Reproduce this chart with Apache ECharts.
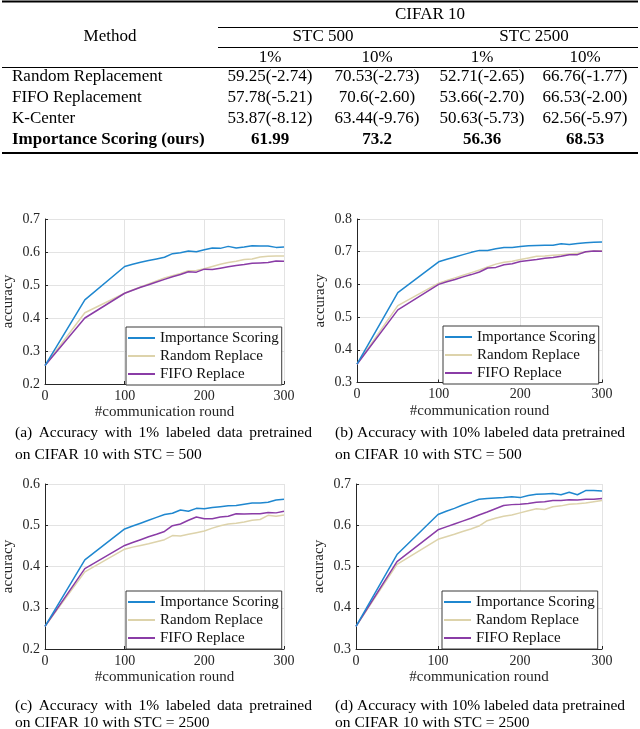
<!DOCTYPE html>
<html><head><meta charset="utf-8">
<script src="https://cdn.jsdelivr.net/npm/echarts@6/dist/echarts.min.js"></script>
<style>html,body{margin:0;padding:0;background:#fff}#c{width:640px;height:729px}</style>
</head><body><div id="c"></div>
<script>
// ---------- table data ----------
const tableTitle = 'CIFAR 10';
const tableGroups = ['STC 500', 'STC 2500'];
const tablePercents = ['1%', '10%', '1%', '10%'];
const tableMethods = ['Random Replacement', 'FIFO Replacement', 'K-Center', 'Importance Scoring (ours)'];
const stc500_1 = ['59.25(-2.74)', '57.78(-5.21)', '53.87(-8.12)', '61.99'];
const stc500_10 = ['70.53(-2.73)', '70.6(-2.60)', '63.44(-9.76)', '73.2'];
const stc2500_1 = ['52.71(-2.65)', '53.66(-2.70)', '50.63(-5.73)', '56.36'];
const stc2500_10 = ['66.76(-1.77)', '66.53(-2.00)', '62.56(-5.97)', '68.53'];

// ---------- chart data ----------
const seriesNames = ['Importance Scoring', 'Random Replace', 'FIFO Replace'];
const rounds = [0, 50, 100, 110, 120, 130, 140, 150, 160, 170, 180, 190, 200, 210, 220, 230, 240, 250, 260, 270, 280, 290, 300];
const xTicks = [0, 100, 200, 300];

// (a) 1%, STC 500
const a_importance = [0.256,0.455,0.556,0.563,0.569,0.574,0.579,0.584,0.595,0.598,0.603,0.601,0.607,0.612,0.611,0.617,0.612,0.615,0.619,0.618,0.618,0.614,0.615];
const a_random     = [0.256,0.416,0.475,0.485,0.494,0.503,0.512,0.521,0.528,0.535,0.543,0.544,0.549,0.556,0.563,0.568,0.572,0.577,0.579,0.585,0.587,0.588,0.588];
const a_fifo       = [0.256,0.400,0.475,0.484,0.493,0.501,0.509,0.517,0.525,0.532,0.540,0.539,0.548,0.547,0.551,0.555,0.559,0.562,0.566,0.567,0.568,0.573,0.572];
const a_yTicks = [0.2, 0.3, 0.4, 0.5, 0.6, 0.7];

// (b) 10%, STC 500
const b_importance = [0.356,0.575,0.669,0.677,0.684,0.691,0.698,0.704,0.704,0.709,0.713,0.713,0.716,0.718,0.719,0.720,0.720,0.724,0.722,0.725,0.727,0.729,0.730];
const b_random     = [0.356,0.535,0.604,0.612,0.620,0.628,0.636,0.644,0.653,0.662,0.668,0.671,0.676,0.681,0.686,0.687,0.689,0.691,0.693,0.695,0.699,0.702,0.703];
const b_fifo       = [0.356,0.522,0.600,0.608,0.615,0.623,0.630,0.638,0.650,0.652,0.660,0.663,0.670,0.673,0.676,0.680,0.682,0.686,0.691,0.691,0.700,0.702,0.701];
const b_yTicks = [0.3, 0.4, 0.5, 0.6, 0.7, 0.8];

// (c) 1%, STC 2500
const c_importance = [0.255,0.416,0.491,0.498,0.505,0.512,0.519,0.526,0.529,0.537,0.534,0.541,0.540,0.543,0.545,0.547,0.548,0.551,0.554,0.554,0.556,0.561,0.563];
const c_random     = [0.255,0.387,0.442,0.447,0.451,0.455,0.460,0.465,0.475,0.474,0.478,0.482,0.486,0.493,0.499,0.503,0.505,0.508,0.512,0.514,0.524,0.522,0.525];
const c_fifo       = [0.255,0.395,0.451,0.458,0.465,0.472,0.478,0.485,0.499,0.503,0.512,0.520,0.516,0.516,0.520,0.522,0.528,0.527,0.528,0.528,0.531,0.530,0.534];
const c_yTicks = [0.2, 0.3, 0.4, 0.5, 0.6];

// (d) 10%, STC 2500
const d_importance = [0.355,0.529,0.626,0.634,0.641,0.649,0.656,0.663,0.665,0.666,0.667,0.669,0.667,0.672,0.675,0.676,0.677,0.674,0.680,0.674,0.684,0.684,0.683];
const d_random     = [0.355,0.505,0.566,0.572,0.578,0.585,0.591,0.598,0.611,0.617,0.622,0.625,0.630,0.635,0.640,0.638,0.645,0.647,0.651,0.652,0.654,0.657,0.660];
const d_fifo       = [0.355,0.512,0.589,0.596,0.603,0.610,0.617,0.625,0.632,0.640,0.648,0.650,0.651,0.653,0.656,0.657,0.660,0.660,0.662,0.661,0.663,0.663,0.665];
const d_yTicks = [0.3, 0.4, 0.5, 0.6, 0.7];

const captionsLine1 = [
  '(a) Accuracy with 1% labeled data pretrained',
  '(b) Accuracy with 10% labeled data pretrained',
  '(c) Accuracy with 1% labeled data pretrained',
  '(d) Accuracy with 10% labeled data pretrained'
];
const captionsLine2 = [
  'on CIFAR 10 with STC = 500',
  'on CIFAR 10 with STC = 500',
  'on CIFAR 10 with STC = 2500',
  'on CIFAR 10 with STC = 2500'
];
const xAxisName = '#communication round';
const yAxisName = 'accuracy';

// ---------- layout / style ----------
const SERIF = '"Liberation Serif", "Times New Roman", serif';
const colors = ['#1f87cf', '#ddd3ab', '#8a3ca6'];
const AXC = '#262626';

const panels = [
  { grid: { left: 38, top: 219, width: 246, height: 165 }, yTicks: a_yTicks, data: [a_importance, a_random, a_fifo], legend: { left: 126, top: 327 }, cap: { x: 15, y1: 433, y2: 455, justify: 297 } },
  { grid: { left: 357, top: 219, width: 245, height: 163.5 }, yTicks: b_yTicks, data: [b_importance, b_random, b_fifo], legend: { left: 443, top: 326 }, cap: { x: 335, y1: 433, y2: 455, justify: 0 } },
  { grid: { left: 39, top: 484, width: 245, height: 165 }, yTicks: c_yTicks, data: [c_importance, c_random, c_fifo], legend: { left: 126, top: 591 }, cap: { x: 15, y1: 706, y2: 723, justify: 297 } },
  { grid: { left: 356, top: 484, width: 246, height: 165 }, yTicks: d_yTicks, data: [d_importance, d_random, d_fifo], legend: { left: 442, top: 591 }, cap: { x: 335, y1: 706, y2: 723, justify: 0 } }
];

const grids = [], xAxes = [], yAxes = [], series = [], legends = [];
panels.forEach((p, i) => {
  grids.push(Object.assign({ containLabel: false }, p.grid));
  xAxes.push({
    type: 'value', gridIndex: i, min: xTicks[0], max: xTicks[xTicks.length - 1], interval: xTicks[1] - xTicks[0],
    name: xAxisName, nameLocation: 'middle', nameGap: 21,
    nameTextStyle: { fontFamily: SERIF, fontSize: 15, color: AXC },
    axisLine: { lineStyle: { color: AXC, width: 1 } },
    axisTick: { inside: true, length: 3, lineStyle: { color: AXC } },
    axisLabel: { fontFamily: SERIF, fontSize: 14, color: AXC, margin: 5 },
    splitLine: { show: true, lineStyle: { color: '#e3e3e3', width: 1 } }
  });
  const yt = p.yTicks;
  yAxes.push({
    type: 'value', gridIndex: i, min: yt[0], max: yt[yt.length - 1], interval: 0.1,
    name: yAxisName, nameLocation: 'middle', nameGap: 29, nameRotate: 90,
    nameTextStyle: { fontFamily: SERIF, fontSize: 15, color: AXC },
    axisLine: { show: true, lineStyle: { color: AXC, width: 1 } },
    axisTick: { show: true, inside: true, length: 3, lineStyle: { color: AXC } },
    axisLabel: { fontFamily: SERIF, fontSize: 14, color: AXC, margin: 5, formatter: v => v.toFixed(1) },
    splitLine: { show: true, lineStyle: { color: '#e3e3e3', width: 1 } }
  });
  p.data.forEach((ys, k) => {
    series.push({
      type: 'line', name: seriesNames[k], xAxisIndex: i, yAxisIndex: i,
      data: rounds.map((x, j) => [x, ys[j]]),
      symbol: 'none', showSymbol: false, animation: false,
      lineStyle: { color: colors[k], width: 1.5 }, itemStyle: { color: colors[k] },
      z: k === 0 ? 4 : (k === 2 ? 3 : 2)
    });
  });
  legends.push({
    left: p.legend.left, top: p.legend.top, orient: 'vertical',
    data: seriesNames, icon: 'rect', itemWidth: 27, itemHeight: 2, itemGap: 2, itemTextGap: 4,
    padding: [3, 3, 3, 2], borderColor: '#3a3a3a', borderWidth: 1, backgroundColor: '#fff',
    selectedMode: false,
    textStyle: { fontFamily: SERIF, fontSize: 15, color: '#111', lineHeight: 16 }
  });
});

// ---------- graphic: table + captions ----------
const graphics = [];
function txt(text, x, y, opts) {
  opts = opts || {};
  const size = opts.size || 17;
  const weight = opts.bold ? 'bold ' : '';
  graphics.push({
    type: 'text', silent: true,
    style: {
      text: text, x: x, y: y,
      font: weight + size + 'px ' + SERIF,
      fill: '#000',
      align: opts.align || 'center', textAlign: opts.align || 'center',
      verticalAlign: 'middle', textVerticalAlign: 'middle'
    }
  });
}
function hline(x1, x2, y, w) {
  graphics.push({ type: 'line', silent: true, shape: { x1: x1, y1: y, x2: x2, y2: y }, style: { stroke: '#000', lineWidth: w } });
}

// table rules
hline(2, 638, 1.5, 2);
hline(218, 638, 27.5, 1);
hline(218, 638, 47.5, 1);
hline(2, 638, 67.5, 1);
hline(2, 638, 153, 2);

txt(tableTitle, 430, 15);
txt('Method', 110, 37);
txt(tableGroups[0], 323, 37);
txt(tableGroups[1], 534, 37);
const colX = [270, 377, 482, 585];
tablePercents.forEach((t, i) => txt(t, colX[i], 58));
const rowY = [77, 98, 119, 139.5];
const cols = [stc500_1, stc500_10, stc2500_1, stc2500_10];
tableMethods.forEach((m, r) => {
  const bold = r === tableMethods.length - 1;
  txt(m, 12, rowY[r], { align: 'left', bold: bold });
  cols.forEach((col, c) => txt(col[r], colX[c], rowY[r], { bold: bold }));
});

// captions
const capSize = 15.5;
const mctx = document.createElement('canvas').getContext('2d');
mctx.font = capSize + 'px ' + SERIF;
panels.forEach((p, i) => {
  const line1 = captionsLine1[i];
  if (p.cap.justify) {
    const words = line1.split(' ');
    const widths = words.map(w => mctx.measureText(w).width);
    const total = widths.reduce((s, w) => s + w, 0);
    const gap = (p.cap.justify - total) / (words.length - 1);
    let x = p.cap.x;
    words.forEach((w, k) => { txt(w, x, p.cap.y1, { align: 'left', size: capSize }); x += widths[k] + gap; });
  } else {
    txt(line1, p.cap.x, p.cap.y1, { align: 'left', size: capSize });
  }
  txt(captionsLine2[i], p.cap.x, p.cap.y2, { align: 'left', size: capSize });
});

const chart = echarts.init(document.getElementById('c'), null, { renderer: 'canvas' });
chart.setOption({
  backgroundColor: '#fff',
  animation: false,
  grid: grids, xAxis: xAxes, yAxis: yAxes, series: series, legend: legends,
  graphic: { elements: graphics }
});
</script>
</body></html>
